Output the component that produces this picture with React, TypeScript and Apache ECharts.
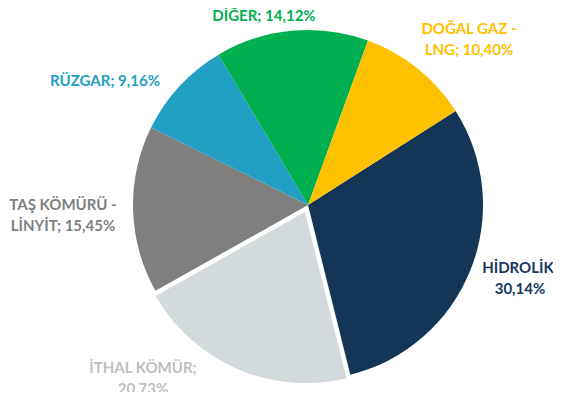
import React, { useEffect, useRef } from "react";
import * as echarts from "echarts";

const categories = ["HİDROLİK", "İTHAL KÖMÜR", "TAŞ KÖMÜRÜ - LİNYİT", "RÜZGAR", "DİĞER", "DOĞAL GAZ - LNG"];
const labelTexts = ["HİDROLİK;\n30,14%", "İTHAL KÖMÜR;\n20,73%", "TAŞ KÖMÜRÜ -\nLİNYİT; 15,45%", "RÜZGAR; 9,16%", "DİĞER; 14,12%", "DOĞAL GAZ -\nLNG; 10,40%"];
const values = [30.14, 20.73, 15.45, 9.16, 14.12, 10.4];
const sliceColors = ["#133656", "#D3DADB", "#7F7F7F", "#21A0C3", "#00B050", "#FFC000"];
const labelColors = ["#17375E", "#C0C0C0", "#7F7F7F", "#21A0C3", "#00B050", "#FFC000"];
const labelCenters: [number, number][] = [
  [520, 277],
  [143, 377],
  [63, 214],
  [105, 80],
  [264, 15],
  [469, 38],
];

export default function App() {
  const ref = useRef<HTMLDivElement>(null);
  useEffect(() => {
    if (!ref.current) return;
    const chart = echarts.init(ref.current, null, { renderer: "svg" });
    chart.setOption({
      animation: false,
      backgroundColor: "#ffffff",
      graphic: labelTexts.map((t, i) => ({
        type: "text",
        x: labelCenters[i][0],
        y: labelCenters[i][1],
        silent: true,
        style: {
          text: t,
          fill: labelColors[i],
          font: "bold 15px Lato",
          lineHeight: 21,
          align: "center",
          verticalAlign: "middle",
        },
      })),
      series: [
        {
          type: "pie",
          center: [308, 205],
          radius: 175,
          startAngle: 32.5,
          clockwise: true,
          selectedMode: "single",
          selectedOffset: 5,
          label: { show: false },
          labelLine: { show: false },
          emphasis: { disabled: true },
          data: values.map((v, i) => ({
            name: categories[i],
            value: v,
            selected: i === 1,
            itemStyle: {
              color: sliceColors[i],
              borderColor: i === 1 ? "#ffffff" : undefined,
              borderWidth: i === 1 ? 3 : 0,
            },
          })),
        },
      ],
    });
    return () => chart.dispose();
  }, []);
  return <div ref={ref} style={{ width: 561, height: 400, margin: -8 }} />;
}
